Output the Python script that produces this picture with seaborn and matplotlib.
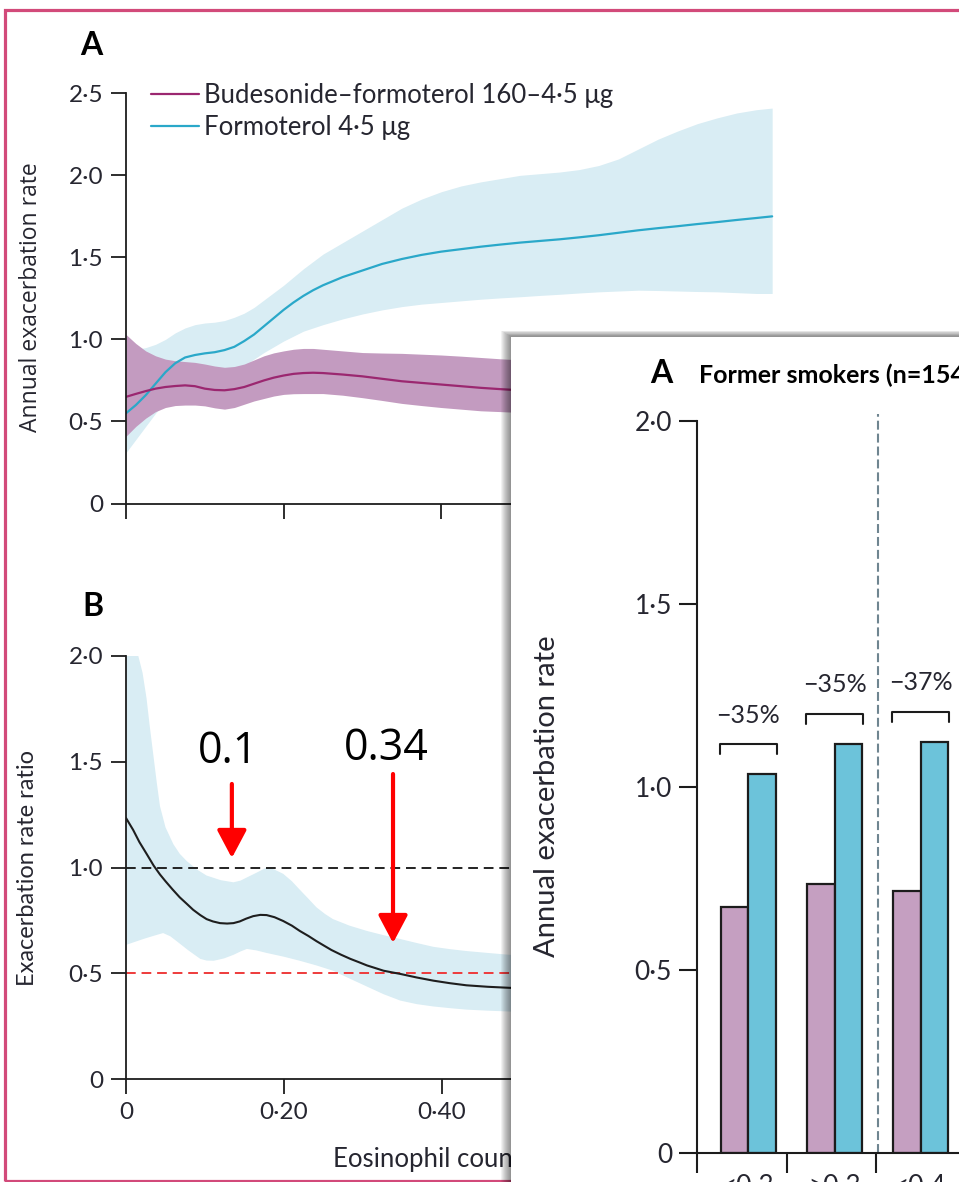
import numpy as np
import pandas as pd
import matplotlib
matplotlib.use("Agg")
import matplotlib.pyplot as plt
import seaborn as sns
from matplotlib.patches import Rectangle
from matplotlib.lines import Line2D

# ---------------- data ----------------
# Panel A: annual exacerbation rate vs eosinophil count
eos_a = [0, 0.0125, 0.025, 0.0375, 0.05, 0.0625, 0.075, 0.0875, 0.1, 0.1125, 0.125,
         0.1375, 0.15, 0.1625, 0.175, 0.1875, 0.2, 0.2125, 0.225, 0.2375, 0.25, 0.275,
         0.3, 0.325, 0.35, 0.375, 0.4, 0.425, 0.45, 0.475, 0.5, 0.525, 0.55, 0.575,
         0.6, 0.625, 0.65, 0.675, 0.7, 0.725, 0.75, 0.775, 0.8, 0.82]
form_rate = [0.55, 0.60, 0.66, 0.73, 0.80, 0.855, 0.89, 0.905, 0.915, 0.922, 0.935,
             0.955, 0.99, 1.03, 1.08, 1.13, 1.18, 1.225, 1.265, 1.30, 1.33, 1.38,
             1.42, 1.46, 1.49, 1.515, 1.535, 1.55, 1.565, 1.578, 1.59, 1.60, 1.61, 1.622,
             1.635, 1.65, 1.665, 1.678, 1.69, 1.703, 1.715, 1.728, 1.74, 1.75]
form_hi = [0.93, 0.94, 0.95, 0.97, 1.0, 1.04, 1.07, 1.09, 1.10, 1.105, 1.115,
           1.135, 1.16, 1.195, 1.24, 1.285, 1.33, 1.38, 1.43, 1.475, 1.52, 1.59,
           1.66, 1.73, 1.80, 1.855, 1.90, 1.935, 1.96, 1.98, 2.0, 2.01, 2.02, 2.035,
           2.06, 2.10, 2.16, 2.22, 2.27, 2.315, 2.35, 2.38, 2.40, 2.41]
form_lo = [0.31, 0.39, 0.47, 0.55, 0.62, 0.675, 0.72, 0.75, 0.77, 0.78, 0.79,
           0.81, 0.84, 0.88, 0.92, 0.955, 0.99, 1.02, 1.05, 1.07, 1.09, 1.125,
           1.155, 1.18, 1.20, 1.215, 1.225, 1.235, 1.245, 1.253, 1.26, 1.268, 1.275, 1.283,
           1.29, 1.295, 1.30, 1.298, 1.295, 1.292, 1.29, 1.285, 1.28, 1.28]
bud_rate = [0.65, 0.668, 0.685, 0.70, 0.71, 0.716, 0.72, 0.715, 0.70, 0.692, 0.69,
            0.697, 0.71, 0.73, 0.75, 0.767, 0.78, 0.79, 0.795, 0.797, 0.795, 0.786,
            0.775, 0.76, 0.745, 0.735, 0.725, 0.715, 0.705, 0.697, 0.69, 0.685, 0.68, 0.675,
            0.67, 0.665, 0.66, 0.657, 0.655, 0.652, 0.65, 0.647, 0.645, 0.645]
bud_hi = [1.03, 0.975, 0.93, 0.90, 0.88, 0.87, 0.865, 0.86, 0.85, 0.838, 0.83,
          0.835, 0.85, 0.875, 0.90, 0.918, 0.93, 0.94, 0.945, 0.945, 0.94, 0.93,
          0.92, 0.917, 0.915, 0.91, 0.905, 0.898, 0.89, 0.882, 0.875, 0.87, 0.865, 0.862,
          0.86, 0.857, 0.855, 0.852, 0.85, 0.85, 0.85, 0.85, 0.85, 0.85]
bud_lo = [0.41, 0.47, 0.52, 0.56, 0.585, 0.597, 0.60, 0.60, 0.595, 0.583, 0.575,
          0.585, 0.605, 0.625, 0.64, 0.655, 0.665, 0.669, 0.67, 0.67, 0.67, 0.66,
          0.645, 0.628, 0.61, 0.597, 0.585, 0.575, 0.565, 0.56, 0.555, 0.55, 0.545, 0.54,
          0.535, 0.53, 0.525, 0.52, 0.515, 0.512, 0.51, 0.507, 0.505, 0.50]
legend_labels = ["Budesonide–formoterol 160–4·5 μg", "Formoterol 4·5 μg"]

# Panel B: exacerbation rate ratio
eos_b = [0, 0.009, 0.017, 0.026, 0.035, 0.043, 0.05, 0.059, 0.068, 0.077, 0.085, 0.094,
         0.102, 0.11, 0.119, 0.128, 0.136, 0.144, 0.152, 0.161, 0.17, 0.178, 0.188, 0.199,
         0.21, 0.22, 0.231, 0.241, 0.25, 0.26, 0.272, 0.284, 0.295, 0.305, 0.316, 0.326,
         0.337, 0.347, 0.368, 0.389, 0.41, 0.431, 0.458, 0.486, 0.55, 0.6, 0.7, 0.82]
ratio = [1.234, 1.178, 1.12, 1.065, 1.009, 0.967, 0.935, 0.896, 0.859, 0.828, 0.80, 0.775,
         0.756, 0.745, 0.737, 0.735, 0.737, 0.745, 0.758, 0.77, 0.776, 0.775, 0.765, 0.747,
         0.725, 0.70, 0.676, 0.652, 0.632, 0.61, 0.588, 0.568, 0.552, 0.537, 0.524, 0.512,
         0.504, 0.497, 0.48, 0.465, 0.453, 0.443, 0.436, 0.431, 0.425, 0.42, 0.415, 0.41]
eos_b_hi = [0, 0.0156, 0.021, 0.026, 0.03, 0.035, 0.039, 0.043, 0.05, 0.06, 0.068, 0.077,
            0.09, 0.102, 0.12, 0.136, 0.145, 0.153, 0.165, 0.178, 0.188, 0.199, 0.21, 0.22,
            0.231, 0.241, 0.252, 0.262, 0.283, 0.305, 0.326, 0.347, 0.368, 0.389, 0.41,
            0.431, 0.458, 0.486, 0.6, 0.7, 0.82]
ratio_hi = [2.0, 2.0, 1.92, 1.80, 1.67, 1.52, 1.40, 1.29, 1.19, 1.11, 1.065, 1.03,
            0.99, 0.962, 0.94, 0.93, 0.938, 0.953, 0.975, 1.0, 0.99, 0.97, 0.935, 0.895,
            0.852, 0.812, 0.78, 0.756, 0.725, 0.70, 0.68, 0.662, 0.643, 0.625, 0.614,
            0.605, 0.596, 0.587, 0.57, 0.56, 0.55]
eos_b_lo = [0, 0.011, 0.022, 0.035, 0.047, 0.056, 0.064, 0.079, 0.094, 0.102, 0.111, 0.124,
            0.136, 0.145, 0.153, 0.165, 0.178, 0.2, 0.22, 0.241, 0.262, 0.283, 0.305, 0.326,
            0.347, 0.368, 0.389, 0.41, 0.431, 0.458, 0.486, 0.6, 0.7, 0.82]
ratio_lo = [0.634, 0.648, 0.662, 0.677, 0.69, 0.675, 0.652, 0.608, 0.568, 0.56, 0.559, 0.57,
            0.587, 0.603, 0.615, 0.608, 0.596, 0.578, 0.559, 0.537, 0.512, 0.475, 0.437, 0.401,
            0.371, 0.354, 0.343, 0.335, 0.328, 0.323, 0.319, 0.31, 0.305, 0.30]
annot_labels = ["0.1", "0.34"]
annot_x = [0.134, 0.338]

# Overlay bar chart: former smokers
groups = ["<0·3", "≥0·3", "<0·4"]
bud_bar = [0.672, 0.735, 0.715]
form_bar = [1.034, 1.117, 1.123]
reduction = ["−35%", "−35%", "−37%"]

xticks = [0, 0.2, 0.4, 0.6, 0.8]
xticklabels = ["0", "0·20", "0·40", "0·60", "0·80"]
yticks_a = [0, 0.5, 1.0, 1.5, 2.0, 2.5]
yticklabels_a = ["0", "0·5", "1·0", "1·5", "2·0", "2·5"]
yticks_b = [0, 0.5, 1.0, 1.5, 2.0]
yticklabels_b = ["0", "0·5", "1·0", "1·5", "2·0"]

# ---------------- style ----------------
sns.set_style("white")
LANCET = ["Lato", "DejaVu Sans"]
SCREEN = ["Open Sans", "DejaVu Sans"]
plt.rcParams["font.family"] = LANCET

PURPLE_LINE = "#9b2770"
PURPLE_FILL = "#c39bc0"
BLUE_LINE = "#2aa8c9"
BLUE_FILL = "#d9edf4"
BAR_PURPLE = "#c59fc1"
BAR_BLUE = "#6cc3da"
INK = "#1c1c1c"
TXT = "#262630"

W, H = 959, 1182
fig = plt.figure(figsize=(W / 100, H / 100), dpi=100)


def rect(l, t, r, b):
    return [l / W, 1 - b / H, (r - l) / W, (b - t) / H]


def style_axis(ax, ticklen, pad, size, lw=1.3):
    for s in ["top", "right"]:
        ax.spines[s].set_visible(False)
    for s in ["left", "bottom"]:
        ax.spines[s].set_linewidth(lw)
        ax.spines[s].set_color(INK)
    ax.tick_params(direction="out", length=ticklen, width=lw, color=INK, pad=pad,
                   labelsize=size, labelcolor=TXT, left=True, bottom=True)
    ax.set_facecolor("none")
    ax.grid(False)


# ---------------- Panel A ----------------
axA = fig.add_axes(rect(126, 93.3, 126 + 0.9 * 788, 503.5))
axA.fill_between(eos_a, form_lo, form_hi, color=BLUE_FILL, lw=0)
axA.fill_between(eos_a, bud_lo, bud_hi, color=PURPLE_FILL, lw=0)
sns.lineplot(x=eos_a, y=form_rate, color=BLUE_LINE, lw=1.6, ax=axA)
sns.lineplot(x=eos_a, y=bud_rate, color=PURPLE_LINE, lw=1.6, ax=axA)
axA.set_xlim(0, 0.9)
axA.set_ylim(0, 2.5)
axA.set_xticks(xticks)
axA.set_xticklabels([])
axA.set_yticks(yticks_a)
axA.set_yticklabels(yticklabels_a)
style_axis(axA, 10.5, 6, 17.5)
handles = [Line2D([], [], color=PURPLE_LINE, lw=1.6), Line2D([], [], color=BLUE_LINE, lw=1.6)]
leg = axA.legend(handles, legend_labels, loc="upper left",
                 bbox_to_anchor=(151 / W, 1 - 83 / H), bbox_transform=fig.transFigure,
                 frameon=False, fontsize=18.5, handlelength=1.85, handletextpad=0.22,
                 labelspacing=0.28, borderpad=0, borderaxespad=0)
for t in leg.get_texts():
    t.set_color(TXT)

# ---------------- Panel B ----------------
axB = fig.add_axes(rect(126, 656, 126 + 0.9 * 790, 1079))
axB.fill(np.r_[eos_b_hi, eos_b_lo[::-1]], np.r_[ratio_hi, ratio_lo[::-1]],
         color=BLUE_FILL, lw=0)
axB.axhline(1.0, color="#222222", lw=1.4, ls=(0, (5, 3)))
axB.axhline(0.5, color="#ee3b3b", lw=1.4, ls=(0, (5, 3)))
sns.lineplot(x=eos_b, y=ratio, color="#1e1e1e", lw=1.5, ax=axB)
axB.set_xlim(0, 0.9)
axB.set_ylim(0, 2.0)
axB.set_xticks(xticks)
axB.set_xticklabels(xticklabels)
axB.set_yticks(yticks_b)
axB.set_yticklabels(yticklabels_b)
style_axis(axB, 10.5, 6, 17.5)
axB.set_xlabel("")
axB.set_ylabel("")

text_y = [1.494, 1.508]
arrow_top = [1.395, 1.442]
arrow_tip = [1.045, 0.643]
text_dx = [-0.005, -0.008]
for lab, xv, ty, a0, a1, dx in zip(annot_labels, annot_x, text_y, arrow_top, arrow_tip, text_dx):
    axB.text(xv + dx, ty, lab, ha="center", va="baseline", fontsize=31,
             family=SCREEN, color="black")
    axB.annotate("", xy=(xv, a1), xytext=(xv, a0),
                 arrowprops=dict(arrowstyle="-|>,head_width=0.45,head_length=0.85",
                                 mutation_scale=20, lw=3, color="#ff0000",
                                 shrinkA=0, shrinkB=0))

# text labels of the base figure
fig.text(80 / W, 1 - 55 / H, "A", fontsize=23, fontweight="bold", color="black",
         va="baseline", ha="left")
fig.text(82 / W, 1 - 616 / H, "B", fontsize=23, fontweight="bold", color="black",
         va="baseline", ha="left")
fig.text(31 / W, 1 - 297 / H, "Annual exacerbation rate", rotation=90, ha="center",
         va="center", fontsize=16.5, family=SCREEN, color=TXT)
fig.text(28 / W, 1 - 868 / H, "Exacerbation rate ratio", rotation=90, ha="center",
         va="center", fontsize=17, color=TXT)
fig.text(333 / W, 1 - 1167 / H, "Eosinophil count (×10⁹ cells per L)", ha="left",
         va="baseline", fontsize=18.5, color=TXT, zorder=0.5)

# pink frame of the screenshot
fig.patches.append(Rectangle((4.7 / W, 1 - 1180.5 / H), 2.0, (1180.5 - 10) / H,
                             transform=fig.transFigure, fill=False, ec="#d24a7a",
                             lw=2.3, zorder=0.5))

# ---------------- overlay window ----------------
ox, oy = 511, 336.5
for i in range(1, 11):
    top = 1 - (oy - 0.6 * i) / H
    fig.patches.append(Rectangle(((ox - i) / W, -0.1), 2.0, top + 0.1,
                                 transform=fig.transFigure, fc="black", alpha=0.05,
                                 lw=0, zorder=0.8))
fig.patches.append(Rectangle((ox / W, -0.1), 2.0, 1 - oy / H + 0.1,
                             transform=fig.transFigure, fc="white", lw=0, zorder=0.9))

axO = fig.add_axes(rect(697, 1152.7 - 2.02 * 365.8, 959, 1152.7))
axO.set_zorder(2)
dfO = pd.DataFrame({
    "group": groups * 2,
    "treatment": ["Budesonide–formoterol"] * len(groups) + ["Formoterol"] * len(groups),
    "rate": bud_bar + form_bar,
})
sns.barplot(data=dfO, x="group", y="rate", hue="treatment", order=groups,
            hue_order=["Budesonide–formoterol", "Formoterol"],
            palette=[BAR_PURPLE, BAR_BLUE], saturation=1, width=0.64,
            edgecolor=INK, linewidth=1.6, legend=False, ax=axO)
axO.set_xlim(-0.595, 2.444)
axO.set_ylim(0, 2.02)
style_axis(axO, 13, 5, 19, lw=1.5)
axO.spines["left"].set_bounds(0, 2.0)
axO.set_yticks(yticks_b)
axO.set_yticklabels(yticklabels_b)
axO.set_xticks(range(len(groups)))
axO.set_xticklabels(groups)
axO.tick_params(axis="x", which="major", length=0, pad=15, labelsize=19)
axO.set_xticks([-0.595, 0.45, 1.48], minor=True)
axO.tick_params(axis="x", which="minor", length=14.5, width=1.5, color=INK, bottom=True)
axO.set_xlabel("")
axO.set_ylabel("")
axO.axvline(1.5, color="#6f8590", lw=1.5, ls=(0, (4.3, 1.9)), zorder=0)

for i, (b, f) in enumerate(zip(bud_bar, form_bar)):
    top = max(b, f) + 0.082
    axO.plot([i - 0.33, i - 0.33, i + 0.33, i + 0.33],
             [top - 0.027, top, top, top - 0.027], color=INK, lw=1.5)
    axO.text(i, top + 0.06, reduction[i], ha="center", va="baseline", fontsize=18,
             color=TXT)

fig.text(650 / W, 1 - 383 / H, "A", fontsize=23, fontweight="bold", color="black",
         va="baseline", ha="left", zorder=3)
fig.text(699 / W, 1 - 383 / H, "Former smokers (n=1548)", fontsize=18, fontweight="bold",
         color="black", va="baseline", ha="left", zorder=3)
fig.text(547 / W, 1 - 796 / H, "Annual exacerbation rate", rotation=90, ha="center",
         va="center", fontsize=21, color=TXT, zorder=3)

fig.savefig("out.png", dpi=100)
